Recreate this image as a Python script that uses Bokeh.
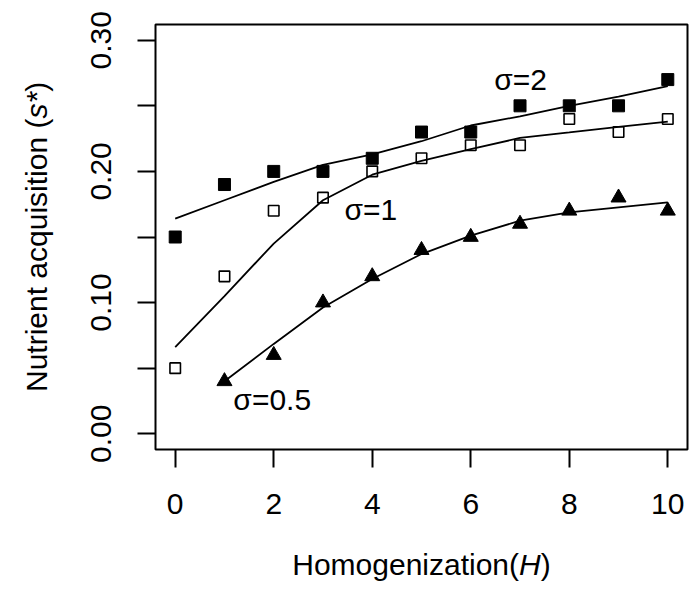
from math import pi
from bokeh.plotting import figure
from bokeh.models import Label, FixedTicker, CustomJSTickFormatter, Range1d
from bokeh.embed import file_html
from bokeh.resources import INLINE

# ---- data ----
H = [0, 1, 2, 3, 4, 5, 6, 7, 8, 9, 10]
H_half = [1, 2, 3, 4, 5, 6, 7, 8, 9, 10]

s2_obs = [0.15, 0.19, 0.20, 0.20, 0.21, 0.23, 0.23, 0.25, 0.25, 0.25, 0.27]
s2_fit = [0.164, 0.178, 0.192, 0.205, 0.213, 0.223, 0.235, 0.242, 0.250, 0.257, 0.265]

s1_obs = [0.05, 0.12, 0.17, 0.18, 0.20, 0.21, 0.22, 0.22, 0.24, 0.23, 0.24]
s1_fit = [0.066, 0.105, 0.145, 0.178, 0.1975, 0.208, 0.217, 0.2255, 0.2297, 0.2340, 0.238]

s05_obs = [0.04, 0.06, 0.10, 0.12, 0.14, 0.15, 0.16, 0.17, 0.18, 0.17]
s05_fit = [0.040, 0.0685, 0.0963, 0.118, 0.137, 0.151, 0.1624, 0.1688, 0.1726, 0.1764]

x_ticks = [0, 2, 4, 6, 8, 10]
y_ticks = [0.0, 0.05, 0.10, 0.15, 0.20, 0.25, 0.30]

series_labels = ["σ=2", "σ=1", "σ=0.5"]
x_title = ["Homogenization(", "H", ")"]
y_title = ["Nutrient acquisition (", "s*", ")"]

FONT = "Liberation Sans"
FS = "30px"
INK = "black"

p = figure(width=695, height=592,
           x_range=Range1d(-0.4, 10.4), y_range=Range1d(-0.012, 0.312),
           output_backend="svg", toolbar_location=None,
           min_border_left=155, min_border_right=8,
           min_border_top=24, min_border_bottom=143)

p.xgrid.visible = False
p.ygrid.visible = False
p.background_fill_color = "white"
p.border_fill_color = "white"
p.outline_line_color = INK
p.outline_line_width = 2

p.xaxis.ticker = FixedTicker(ticks=x_ticks)
p.yaxis.ticker = FixedTicker(ticks=y_ticks)
p.yaxis.formatter = CustomJSTickFormatter(
    code="return (Math.round(tick*100) % 10 === 0) ? tick.toFixed(2) : '';")

for ax in (p.xaxis[0], p.yaxis[0]):
    ax.axis_line_color = None
    ax.major_tick_in = 0
    ax.major_tick_out = 18
    ax.major_tick_line_width = 2
    ax.major_tick_line_color = INK
    ax.minor_tick_line_color = None
    ax.major_label_text_font = FONT
    ax.major_label_text_font_size = FS
    ax.major_label_text_color = INK

p.xaxis.major_label_standoff = 26
p.yaxis.major_label_standoff = 26
p.yaxis.major_label_orientation = "parallel"

# fitted lines
p.line(H, s2_fit, line_color=INK, line_width=1.8)
p.line(H, s1_fit, line_color=INK, line_width=1.8)
p.line(H_half, s05_fit, line_color=INK, line_width=1.8)

# observed points
p.scatter(H, s2_obs, marker="square", size=12, fill_color=INK, line_color=INK)
p.scatter(H, s1_obs, marker="square", size=10.5, fill_color=None, line_color=INK, line_width=1.6)
p.scatter(H_half, s05_obs, marker="triangle", size=15, fill_color=INK, line_color=INK)

# series labels
for txt, (lx, ly) in zip(series_labels, [(7.01, 0.2697), (3.97, 0.1706), (1.97, 0.0258)]):
    p.add_layout(Label(x=lx, y=ly, text=txt, text_font=FONT, text_font_size=FS,
                       text_align="center", text_baseline="alphabetic", text_color=INK))

# axis titles: placed in the side panels so they are not clipped to the frame
xa, ya = 6.98, -0.0997
p.add_layout(Label(x=xa, y=ya, text=x_title[0], text_font=FONT, text_font_size=FS,
                   text_color=INK, text_align="right", text_baseline="alphabetic"), "below")
p.add_layout(Label(x=xa, y=ya, text=x_title[1], text_font=FONT, text_font_size=FS,
                   text_color=INK, text_font_style="italic", text_align="left",
                   text_baseline="alphabetic"), "left")
p.add_layout(Label(x=xa, y=ya, x_offset=21.7, text=x_title[2], text_font=FONT, text_font_size=FS,
                   text_color=INK, text_align="left", text_baseline="alphabetic"), "left")

xb, yb = -2.81, 0.2403
p.add_layout(Label(x=xb, y=yb, text=y_title[0], text_font=FONT, text_font_size=FS, angle=pi/2,
                   text_color=INK, text_align="right", text_baseline="alphabetic"), "left")
p.add_layout(Label(x=xb, y=yb, text=y_title[1], text_font=FONT, text_font_size=FS, angle=pi/2,
                   text_color=INK, text_font_style="italic", text_align="left",
                   text_baseline="alphabetic"), "below")
p.add_layout(Label(x=xb, y=yb, y_offset=26.7, text=y_title[2], text_font=FONT, text_font_size=FS,
                   angle=pi/2, text_color=INK, text_align="left", text_baseline="alphabetic"), "below")

open("out.html", "w").write(file_html(p, INLINE))
